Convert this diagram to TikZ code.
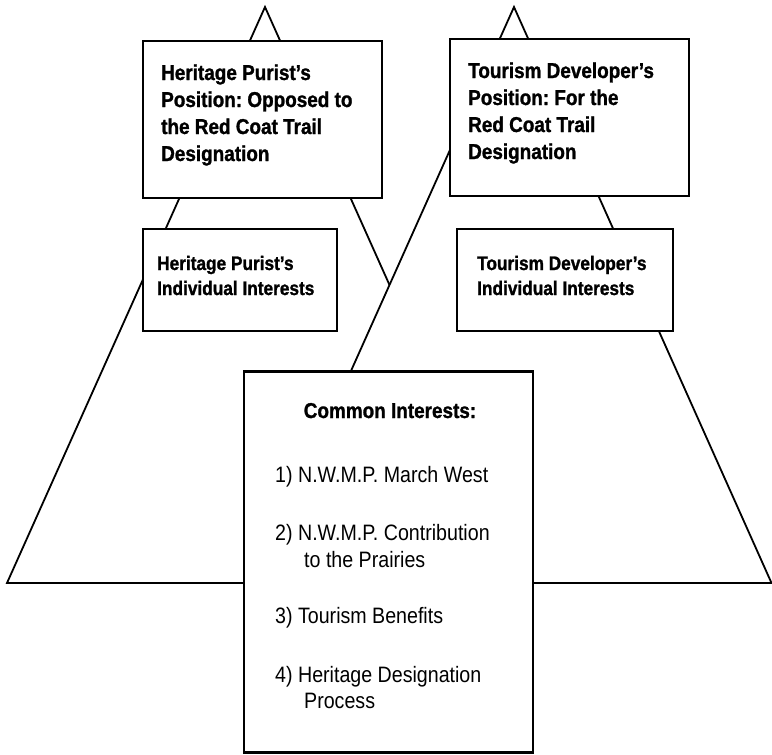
\documentclass[tikz,border=0pt]{standalone}
\usepackage{fontspec}
\setmainfont{Liberation Sans}
\newfontfamily\condfont[FakeStretch=0.88,BoldFeatures={FakeBold=1.2}]{Liberation Sans}
\frenchspacing
\begin{document}
\begin{tikzpicture}[x=1pt,y=-1pt,
  tri/.style={draw=black,fill=white,line width=1.8pt,line join=miter},
  box/.style={draw=black,fill=white,line width=2.4pt,rectangle,inner sep=0pt,outer sep=0pt},
  headA/.style={anchor=base west,inner sep=0pt,font=\condfont\bfseries\fontsize{21.5}{27}\selectfont},
  headB/.style={anchor=base west,inner sep=0pt,font=\condfont\bfseries\fontsize{19.6}{25}\selectfont},
  headC/.style={anchor=base,inner sep=0pt,font=\condfont\bfseries\fontsize{21.5}{27}\selectfont},
  itemtxt/.style={anchor=base west,inner sep=0pt,font=\condfont\fontsize{22.3}{27}\selectfont}]
\useasboundingbox (0,0) rectangle (772,755);
% triangles
\coordinate (LA) at (265,7);
\coordinate (LB) at (7,583);
\coordinate (LC) at (523,583);
\coordinate (RA) at (514,7);
\coordinate (RB) at (256,583);
\coordinate (RC) at (771.5,583);
\draw[tri] (LA) -- (LC) -- (LB) -- cycle;
\draw[tri] (RA) -- (RC) -- (RB) -- cycle;
% boxes
\node[box,minimum width=239pt,minimum height=157pt] (pos1) at (262.5,119.5) {};
\node[box,minimum width=239pt,minimum height=157pt] (pos2) at (569.5,117.5) {};
\node[box,minimum width=194pt,minimum height=102pt] (int1) at (240,280) {};
\node[box,minimum width=216pt,minimum height=102pt] (int2) at (565,280) {};
\node[box,minimum width=289pt,minimum height=381pt] (common) at (388.5,562) {};
% texts box 1
\node[headA] (p1a) at (161,80) {Heritage Purist’s};
\node[headA] (p1b) at (161,107) {Position: Opposed to};
\node[headA] (p1c) at (161,134) {the Red Coat Trail};
\node[headA] (p1d) at (161,161) {Designation};
% texts box 2
\node[headA] (p2a) at (468,78) {Tourism Developer’s};
\node[headA] (p2b) at (468,105) {Position: For the};
\node[headA] (p2c) at (468,132) {Red Coat Trail};
\node[headA] (p2d) at (468,159) {Designation};
% interests
\node[headB] (i1a) at (157,270) {Heritage Purist’s};
\node[headB] (i1b) at (157,295) {Individual Interests};
\node[headB] (i2a) at (477,270) {Tourism Developer’s};
\node[headB] (i2b) at (477,295) {Individual Interests};
% common
\node[headC] (ct) at (390,418) {Common Interests:};
\node[itemtxt] (c1) at (275,482) {1) N.W.M.P. March West};
\node[itemtxt] (c2) at (275,540) {2) N.W.M.P. Contribution};
\node[itemtxt] (c2b) at (304,567) {to the Prairies};
\node[itemtxt] (c3) at (275,623) {3) Tourism Benefits};
\node[itemtxt] (c4) at (275,682) {4) Heritage Designation};
\node[itemtxt] (c4b) at (304,708) {Process};
\end{tikzpicture}
\end{document}
